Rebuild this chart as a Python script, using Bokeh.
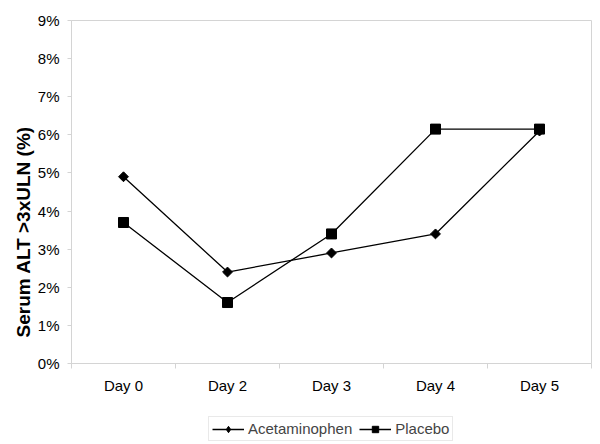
import math
from bokeh.plotting import figure
from bokeh.layouts import column
from bokeh.models import Range1d, FixedTicker, PrintfTickFormatter, Legend, LegendItem, Title
from bokeh.embed import file_html
from bokeh.resources import INLINE

days = ["Day 0", "Day 2", "Day 3", "Day 4", "Day 5"]
acetaminophen = [4.9, 2.4, 2.9, 3.4, 6.1]
placebo = [3.7, 1.6, 3.4, 6.15, 6.15]
y_ticks = [0, 1, 2, 3, 4, 5, 6, 7, 8, 9]
series_names = ["Acetaminophen", "Placebo"]
y_title = "Serum ALT >3xULN (%)"

xs = list(range(len(days)))
grey = "#d4d4d4"
FONT = "Liberation Sans"

p = figure(width=592, height=400, output_backend="svg", toolbar_location=None,
           x_range=Range1d(-0.5, len(days) - 0.5), y_range=Range1d(0, 9),
           min_border_left=71, min_border_right=1, min_border_top=20, min_border_bottom=37)

p.xgrid.visible = False
p.ygrid.visible = False
p.outline_line_color = grey
p.background_fill_color = "white"
p.border_fill_color = "white"

p.yaxis.ticker = FixedTicker(ticks=y_ticks)
p.yaxis.formatter = PrintfTickFormatter(format="%d%%")
p.yaxis.axis_line_color = grey
p.yaxis.major_tick_line_color = grey
p.yaxis.major_tick_out = 4
p.yaxis.major_tick_in = 0
p.yaxis.minor_tick_line_color = None
p.yaxis.major_label_text_font = FONT
p.yaxis.major_label_text_font_size = "15px"
p.yaxis.major_label_text_color = "black"
p.yaxis.major_label_standoff = 8

# y title placed in its own left panel, starting a little above the frame bottom
p.add_layout(Title(text=y_title, align="left", offset=26, standoff=2,
                   text_font=FONT, text_font_size="19px", text_font_style="bold",
                   text_color="black"), "left")

boundaries = [i - 0.5 for i in range(len(days) + 1)]
p.xaxis.ticker = FixedTicker(ticks=xs, minor_ticks=boundaries)
p.xaxis.major_label_overrides = {i: d for i, d in enumerate(days)}
p.xaxis.axis_line_color = grey
p.xaxis.major_tick_line_color = None
p.xaxis.minor_tick_line_color = grey
p.xaxis.minor_tick_out = 5
p.xaxis.minor_tick_in = 0
p.xaxis.major_label_text_font = FONT
p.xaxis.major_label_text_font_size = "15px"
p.xaxis.major_label_text_color = "black"
p.xaxis.major_label_standoff = 7

p.line(xs, acetaminophen, line_color="black", line_width=1.3)
p.scatter(xs, acetaminophen, marker="square", size=7, angle=math.pi / 4,
          fill_color="black", line_color="black")
p.line(xs, placebo, line_color="black", line_width=1.3)
p.scatter(xs, placebo, marker="square", size=10, fill_color="black", line_color="black")

# legend strip below the chart (its frame is aligned with the chart's frame)
lg = figure(width=592, height=42, output_backend="svg", toolbar_location=None,
            x_axis_type=None, y_axis_type=None,
            x_range=Range1d(100, 101), y_range=Range1d(100, 101),
            min_border=0, outline_line_color=None)
lg.xgrid.visible = False
lg.ygrid.visible = False
a_l = lg.line(xs, acetaminophen, line_color="black", line_width=1.3)
a_m = lg.scatter(xs, acetaminophen, marker="diamond", size=12,
                 fill_color="black", line_color="black")
b_l = lg.line(xs, placebo, line_color="black", line_width=1.3)
b_m = lg.scatter(xs, placebo, marker="square", size=10, fill_color="black", line_color="black")

legend = Legend(items=[LegendItem(label=series_names[0], renderers=[a_l, a_m]),
                       LegendItem(label=series_names[1], renderers=[b_l, b_m])],
                orientation="horizontal", location=(137, 1),
                label_text_font=FONT, label_text_font_size="15px",
                border_line_color=grey, padding=3, spacing=7, margin=0,
                glyph_width=32, glyph_height=16, label_standoff=4,
                label_height=16)
lg.add_layout(legend, "center")

layout = column(p, lg, spacing=0)
open("out.html", "w").write(file_html(layout, INLINE))
